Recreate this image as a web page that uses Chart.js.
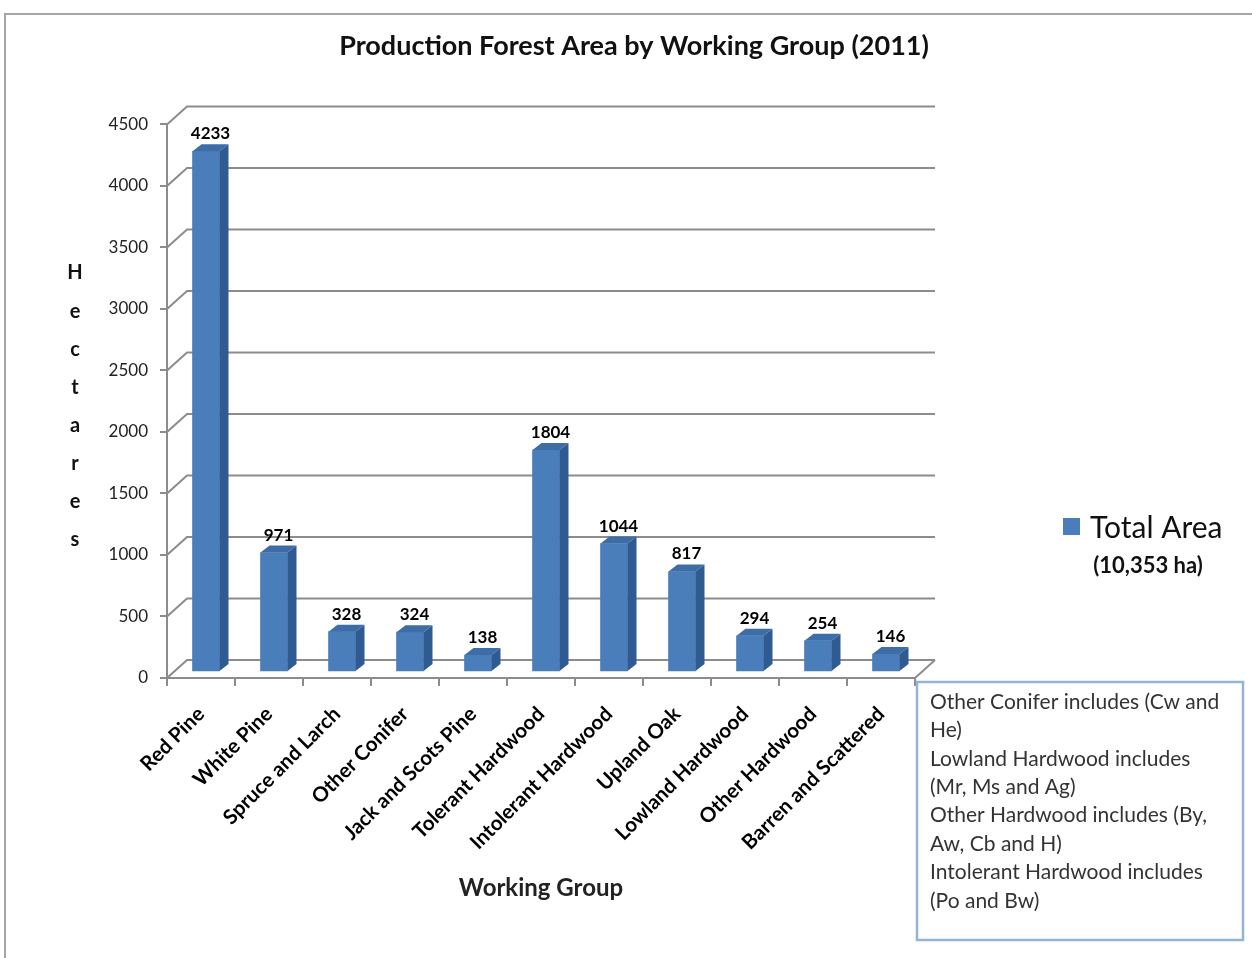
<!DOCTYPE html>
<html>
<head>
<meta charset="utf-8">
<script src="https://cdn.jsdelivr.net/npm/chart.js@4.4.1/dist/chart.umd.min.js"></script>
<style>
  html, body { margin: 0; padding: 0; background: #fff; }
</style>
</head>
<body>
<canvas id="myChart" width="1252" height="958"></canvas>
<script>
// data
const groups = ['Red Pine', 'White Pine', 'Spruce and Larch', 'Other Conifer', 'Jack and Scots Pine',
  'Tolerant Hardwood', 'Intolerant Hardwood', 'Upland Oak', 'Lowland Hardwood', 'Other Hardwood', 'Barren and Scattered'];
const areas = [4233, 971, 328, 324, 138, 1804, 1044, 817, 294, 254, 146];
const yTicks = [0, 500, 1000, 1500, 2000, 2500, 3000, 3500, 4000, 4500];
const seriesName = 'Total Area';
const seriesTotal = '(10,353 ha)';
const yTitleLetters = ['H', 'e', 'c', 't', 'a', 'r', 'e', 's'];
const noteLines = [
  'Other Conifer includes (Cw and',
  'He)',
  'Lowland Hardwood includes',
  '(Mr, Ms and Ag)',
  'Other Hardwood includes (By,',
  'Aw, Cb and H)',
  'Intolerant Hardwood includes',
  '(Po and Bw)'
];

const FONT = 'Lato';
const BLUE = '#4a7ebb';
const SIDE = '#2f5b91';
const TOP = '#3d6ca6';
const GRID = '#8c8c8c';

// fake depth of the old 3d excel look
const WALL_DX = 20, WALL_DY = -18;
const BAR_SHIFT_X = 5, BAR_SHIFT_Y = -6;
const BAR_DX = 9, BAR_DY = -7;

const look3d = {
  id: 'look3d',
  beforeDraw(chart) {
    const ctx = chart.ctx;
    ctx.save();
    ctx.fillStyle = '#fff';
    ctx.fillRect(0, 0, chart.width, chart.height);
    // outer frame
    ctx.strokeStyle = '#a6a6a6';
    ctx.lineWidth = 2;
    ctx.beginPath();
    ctx.moveTo(5, 958);
    ctx.lineTo(5, 14);
    ctx.lineTo(1252, 14);
    ctx.stroke();
    ctx.restore();
  },
  beforeDatasetsDraw(chart) {
    const ctx = chart.ctx;
    const a = chart.chartArea;
    const y = chart.scales.y;
    ctx.save();
    ctx.strokeStyle = GRID;
    ctx.lineWidth = 2;
    yTicks.forEach(v => {
      const py = y.getPixelForValue(v);
      ctx.beginPath();
      ctx.moveTo(a.left, py);
      ctx.lineTo(a.left + WALL_DX, py + WALL_DY);
      ctx.lineTo(a.right + WALL_DX, py + WALL_DY);
      ctx.stroke();
    });
    // floor right edge
    ctx.beginPath();
    ctx.moveTo(a.right, a.bottom);
    ctx.lineTo(a.right + WALL_DX, a.bottom + WALL_DY);
    ctx.stroke();
    ctx.restore();

    ctx.save();
    ctx.translate(BAR_SHIFT_X, BAR_SHIFT_Y);
  },
  afterDatasetsDraw(chart) {
    const ctx = chart.ctx;
    const meta = chart.getDatasetMeta(0);
    meta.data.forEach((bar, i) => {
      const l = bar.x - bar.width / 2, r = bar.x + bar.width / 2;
      // side face
      ctx.fillStyle = SIDE;
      ctx.beginPath();
      ctx.moveTo(r, bar.y);
      ctx.lineTo(r + BAR_DX, bar.y + BAR_DY);
      ctx.lineTo(r + BAR_DX, bar.base + BAR_DY);
      ctx.lineTo(r, bar.base);
      ctx.closePath();
      ctx.fill();
      // top face
      ctx.fillStyle = TOP;
      ctx.beginPath();
      ctx.moveTo(l, bar.y);
      ctx.lineTo(l + BAR_DX, bar.y + BAR_DY);
      ctx.lineTo(r + BAR_DX, bar.y + BAR_DY);
      ctx.lineTo(r, bar.y);
      ctx.closePath();
      ctx.fill();
      // value label
      ctx.fillStyle = '#000';
      ctx.font = 'bold 17px ' + FONT;
      ctx.textAlign = 'center';
      ctx.textBaseline = 'bottom';
      ctx.fillText(String(areas[i]), bar.x + BAR_DX / 2, bar.y + BAR_DY - 2);
    });
    ctx.restore();
  },
  afterDraw(chart) {
    const ctx = chart.ctx;
    ctx.save();
    // vertical axis title, one letter per line
    ctx.fillStyle = '#111';
    ctx.font = 'bold 20px ' + FONT;
    ctx.textAlign = 'center';
    ctx.textBaseline = 'middle';
    yTitleLetters.forEach((ch, i) => ctx.fillText(ch, 75, 273 + i * 38.1));

    // legend
    ctx.fillStyle = BLUE;
    ctx.fillRect(1063, 518, 17, 17);
    ctx.fillStyle = '#111';
    ctx.textAlign = 'left';
    ctx.font = '30px ' + FONT;
    ctx.fillText(chart.data.datasets[0].label, 1090, 528);
    ctx.font = 'bold 22px ' + FONT;
    ctx.textAlign = 'center';
    ctx.fillText(seriesTotal, 1148, 566);

    // notes box
    ctx.strokeStyle = '#95b3d7';
    ctx.lineWidth = 2.5;
    ctx.strokeRect(917, 682, 326, 258);
    ctx.fillStyle = '#333';
    ctx.font = '21px ' + FONT;
    ctx.textAlign = 'left';
    noteLines.forEach((t, i) => ctx.fillText(t, 930, 702 + i * 28.4));
    ctx.restore();
  }
};

const ctx = document.getElementById('myChart');
new Chart(ctx, {
  type: 'bar',
  data: {
    labels: groups,
    datasets: [{
      label: seriesName,
      data: areas,
      backgroundColor: BLUE,
      borderWidth: 0,
      barThickness: 27,
      yAxisID: 'y'
    }]
  },
  options: {
    responsive: false,
    animation: false,
    events: [],
    layout: { padding: { left: 16, top: 0, right: 0, bottom: 55 } },
    scales: {
      x: {
        grid: { offset: true, drawOnChartArea: false, tickLength: 8, color: GRID, lineWidth: 2 },
        border: { color: GRID, width: 2 },
        ticks: {
          autoSkip: false, maxRotation: 45, minRotation: 45, padding: 16,
          color: '#000', font: { family: FONT, size: 20.5, weight: 'bold' }
        },
        title: {
          display: true, text: 'Working Group', color: '#222', padding: 0,
          font: { family: FONT, size: 24, weight: 'bold' }
        },
        afterFit(s) { s.height = 225; }
      },
      y: {
        min: 0, max: 4500,
        afterBuildTicks(s) { s.ticks = yTicks.map(v => ({ value: v })); },
        grid: { drawOnChartArea: false, tickLength: 7, color: GRID, lineWidth: 2 },
        border: { color: GRID, width: 2 },
        ticks: {
          padding: 12, color: '#222', font: { family: FONT, size: 17 },
          callback: v => String(v)
        },
        afterFit(s) { s.width = 151; }
      },
      side: {
        position: 'right',
        grid: { display: false },
        border: { display: false },
        ticks: { display: false },
        afterFit(s) { s.width = 337; }
      }
    },
    plugins: {
      legend: { display: false },
      tooltip: { enabled: false },
      title: {
        display: true,
        text: 'Production Forest Area by Working Group (2011)',
        color: '#111',
        font: { family: FONT, size: 27, weight: 'bold' },
        padding: { top: 30, bottom: 62 }
      }
    }
  },
  plugins: [look3d]
});
</script>
</body>
</html>
